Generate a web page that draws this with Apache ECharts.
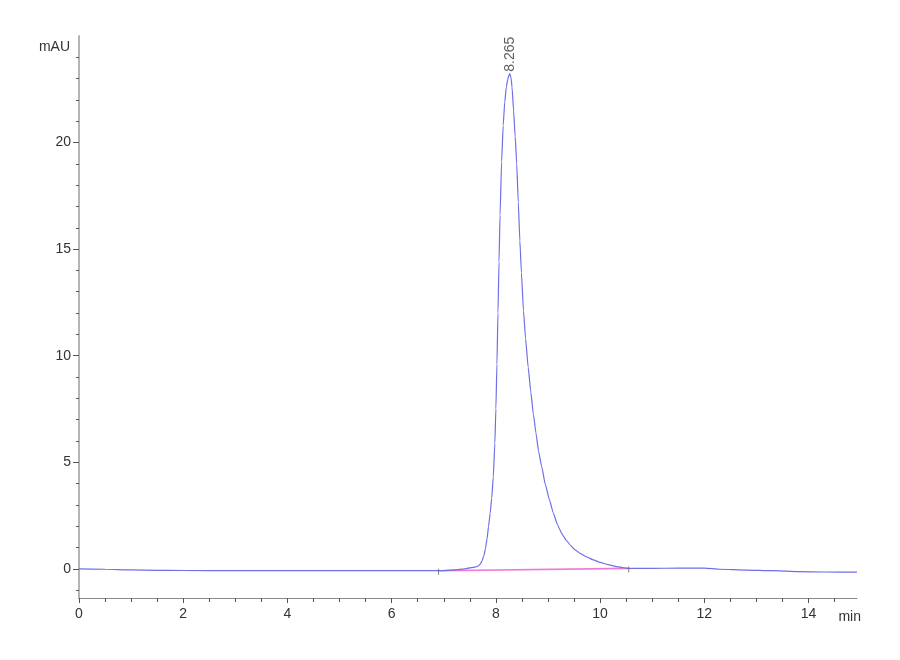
<!DOCTYPE html>
<html>
<head>
<meta charset="utf-8">
<style>
html,body{margin:0;padding:0;background:#fff;}
#chart{width:900px;height:660px;}
</style>
<script src="https://cdn.jsdelivr.net/npm/echarts@6/dist/echarts.min.js"></script>
</head>
<body>
<div id="chart"></div>
<script>
// Retention time (min) and absorbance (mAU)
const timeMin = [0.0, 0.5, 1.0, 1.5, 2.0, 3.0, 4.0, 5.0, 6.0, 6.9, 7.2, 7.4, 7.6, 7.66, 7.70, 7.74, 7.77, 7.80, 7.83, 7.86, 7.89, 7.92, 7.95, 7.98, 8.00, 8.02, 8.04, 8.06, 8.08, 8.11, 8.14, 8.17, 8.20, 8.23, 8.265, 8.29, 8.31, 8.34, 8.37, 8.40, 8.43, 8.46, 8.49, 8.53, 8.57, 8.62, 8.67, 8.72, 8.77, 8.82, 8.88, 8.95, 9.03, 9.10, 9.18, 9.22, 9.26, 9.30, 9.35, 9.44, 9.52, 9.62, 9.74, 9.87, 10.0, 10.15, 10.32, 10.45, 10.55, 11.0, 11.5, 12.0, 12.3, 12.8, 13.3, 13.8, 14.3, 14.93];
const signalMAU = [0.0, -0.02, -0.05, -0.07, -0.08, -0.09, -0.09, -0.09, -0.09, -0.09, -0.05, 0.0, 0.08, 0.13, 0.22, 0.40, 0.62, 0.95, 1.4, 2.0, 2.6, 3.3, 4.3, 5.9, 7.5, 9.6, 12.0, 14.4, 16.6, 19.1, 20.8, 21.9, 22.6, 23.0, 23.25, 23.05, 22.6, 21.5, 20.3, 19.0, 17.2, 15.4, 13.9, 12.1, 10.8, 9.45, 8.3, 7.25, 6.36, 5.5, 4.78, 3.95, 3.22, 2.63, 2.09, 1.87, 1.67, 1.52, 1.34, 1.08, 0.89, 0.72, 0.56, 0.42, 0.3, 0.2, 0.1, 0.05, 0.02, 0.02, 0.03, 0.03, -0.02, -0.06, -0.09, -0.13, -0.15, -0.16];
// Integration baseline (start, end)
const baselineTime = [6.9, 10.55];
const baselineMAU = [-0.09, 0.02];
// Peak annotation
const peakTime = 8.265;
const peakHeight = 23.25;
const peakLabel = '8.265';
// Axis ticks
const xMajorTicks = [0, 2, 4, 6, 8, 10, 12, 14];
const xMinorTicks = [0.5, 1, 1.5, 2.5, 3, 3.5, 4.5, 5, 5.5, 6.5, 7, 7.5, 8.5, 9, 9.5, 10.5, 11, 11.5, 12.5, 13, 13.5, 14.5];
const yMajorTicks = [0, 5, 10, 15, 20];
const yMinorTicks = [-1, 1, 2, 3, 4, 6, 7, 8, 9, 11, 12, 13, 14, 16, 17, 18, 19, 21, 22, 23, 24];

const X_MIN = 0, X_MAX = 14.93, Y_MIN = -1.37, Y_MAX = 25;
const FONT = "'Liberation Sans Narrow','Liberation Sans',Arial,sans-serif";

const trace = timeMin.map((t, i) => [t, signalMAU[i]]);
const baseline = baselineTime.map((t, i) => [t, baselineMAU[i]]);

const chart = echarts.init(document.getElementById('chart'), null, {renderer: 'canvas'});
chart.setOption({
  animation: false,
  backgroundColor: '#ffffff',
  grid: {left: 79, right: 43, top: 36, bottom: 62},
  xAxis: [
    {
      type: 'value', min: X_MIN, max: X_MAX, position: 'bottom',
      name: 'min', nameLocation: 'end', nameGap: 0,
      nameTextStyle: {color: '#333', fontFamily: FONT, fontSize: 14, align: 'right', verticalAlign: 'top', padding: [12, -4, 0, 0]},
      axisLine: {show: true, onZero: false, lineStyle: {color: '#8a8a8a', width: 1}},
      axisTick: {show: true, customValues: xMajorTicks, length: 5, lineStyle: {color: '#555'}},
      axisLabel: {customValues: xMajorTicks, color: '#333', fontFamily: FONT, fontSize: 14, margin: 9},
      splitLine: {show: false}
    },
    {
      type: 'value', min: X_MIN, max: X_MAX, position: 'bottom', offset: 0,
      axisLine: {show: false, onZero: false},
      axisTick: {show: true, customValues: xMinorTicks, length: 4, lineStyle: {color: '#555'}},
      axisLabel: {show: false},
      splitLine: {show: false}
    }
  ],
  yAxis: [
    {
      type: 'value', min: Y_MIN, max: Y_MAX, position: 'left',
      name: 'mAU', nameLocation: 'end', nameGap: -11,
      nameTextStyle: {color: '#333', fontFamily: FONT, fontSize: 14, align: 'right', verticalAlign: 'middle', padding: [0, 9, 0, 0]},
      axisLine: {show: true, onZero: false, lineStyle: {color: '#b5b5b5', width: 2}},
      axisTick: {show: true, customValues: yMajorTicks, length: 6, lineStyle: {color: '#555'}},
      axisLabel: {customValues: yMajorTicks, color: '#333', fontFamily: FONT, fontSize: 14, margin: 8},
      splitLine: {show: false}
    },
    {
      type: 'value', min: Y_MIN, max: Y_MAX, position: 'left', offset: 0,
      axisLine: {show: false, onZero: false},
      axisTick: {show: true, customValues: yMinorTicks, length: 3, lineStyle: {color: '#555'}},
      axisLabel: {show: false},
      splitLine: {show: false}
    }
  ],
  series: [
    {
      type: 'line', name: 'baseline', data: baseline, xAxisIndex: 0, yAxisIndex: 0,
      symbol: 'none', lineStyle: {color: '#f078d8', width: 1.6}, z: 2
    },
    {
      type: 'line', name: 'signal', data: trace, xAxisIndex: 0, yAxisIndex: 0,
      symbol: 'none', smooth: 0.15, smoothMonotone: 'x',
      lineStyle: {color: '#6f6fe6', width: 1.2}, z: 3
    },
    {
      type: 'scatter', name: 'markers', data: baseline, xAxisIndex: 0, yAxisIndex: 0,
      symbol: 'rect', symbolSize: [1, 6], symbolOffset: [0, 1],
      itemStyle: {color: '#666'}, z: 4, silent: true
    },
    {
      type: 'scatter', name: 'peak', data: [[peakTime, peakHeight]], xAxisIndex: 0, yAxisIndex: 0,
      symbolSize: 1, itemStyle: {color: 'rgba(0,0,0,0)'}, z: 5, silent: true,
      label: {
        show: true, formatter: peakLabel, position: 'top', distance: 1,
        rotate: 90, align: 'left', verticalAlign: 'middle',
        color: '#333', fontFamily: FONT, fontSize: 14
      }
    }
  ]
});
</script>
</body>
</html>
